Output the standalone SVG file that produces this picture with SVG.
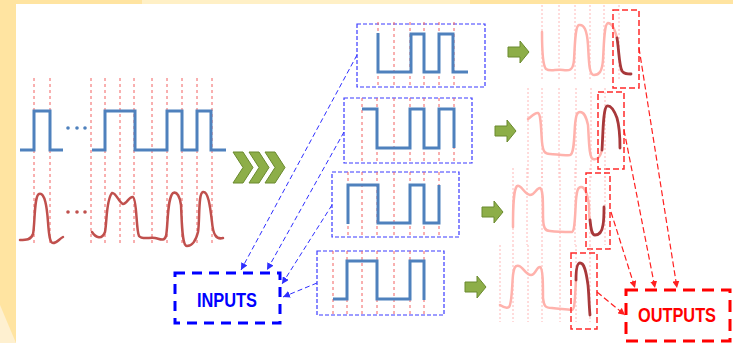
<svg xmlns="http://www.w3.org/2000/svg" width="733" height="343" viewBox="0 0 733 343">
<defs>
<style>
.grid{stroke:#F26060;stroke-width:1;stroke-dasharray:3,3;fill:none}
.pgrid{stroke:#FFB8B8;stroke-width:1;stroke-dasharray:2,2;fill:none}
.sq{stroke:#4F81BD;stroke-width:3;fill:none;stroke-linejoin:miter}
.rw{stroke:#C0504D;stroke-width:2.5;fill:none;stroke-linecap:round}
.pale{stroke:#FFB2AC;stroke-width:2.5;fill:none;stroke-linecap:round}
.dark{stroke:#A8383A;stroke-width:2.8;fill:none;stroke-linecap:round}
.ibox{stroke:#3A3AFF;stroke-width:1.2;stroke-dasharray:4,2;fill:none}
.obox{stroke:#FF2A2A;stroke-width:1.5;stroke-dasharray:6,3;fill:none}
.green{fill:#8DAE48;stroke:#6A8A2E;stroke-width:1}
.bcon{stroke:#2F2FFF;stroke-width:1;stroke-dasharray:5,3;fill:none}
.rcon{stroke:#FF2020;stroke-width:1.2;stroke-dasharray:6,3;fill:none}
.lbl{font-family:"Liberation Sans",Arial,sans-serif;font-weight:bold;font-size:21px;text-anchor:middle}
</style>
<marker id="ab" markerUnits="userSpaceOnUse" markerWidth="8" markerHeight="7" refX="7" refY="3.5" orient="auto"><path d="M0,0 L7,3.5 L0,7 z" fill="#2F2FFF"/></marker>
<marker id="ar" markerUnits="userSpaceOnUse" markerWidth="8" markerHeight="7" refX="7" refY="3.5" orient="auto"><path d="M0,0 L7,3.5 L0,7 z" fill="#FF2020"/></marker>
</defs>
<rect width="733" height="343" fill="#FFFFFF"/>
<rect x="0" y="0" width="733" height="4" fill="#FFE4A1"/>
<rect x="142" y="0" width="328" height="4" fill="#FFF0C6"/>
<rect x="0" y="0" width="16" height="343" fill="#FFE4A1"/>
<polygon points="0,305 16,343 0,343" fill="#FEF0D0"/>

<g id="input-signals">
<g class="grid">
<line x1="34" y1="78" x2="34" y2="245"/><line x1="50" y1="78" x2="50" y2="245"/>
<line x1="91" y1="78" x2="91" y2="245"/><line x1="105" y1="78" x2="105" y2="245"/>
<line x1="120" y1="78" x2="120" y2="245"/><line x1="134" y1="78" x2="134" y2="245"/>
<line x1="152" y1="78" x2="152" y2="245"/><line x1="167" y1="78" x2="167" y2="245"/>
<line x1="182" y1="78" x2="182" y2="245"/><line x1="197" y1="78" x2="197" y2="245"/>
<line x1="212" y1="78" x2="212" y2="245"/>
</g>
<path class="sq" d="M20,150 H34 V111 H50 V150 H63 M92,150 H105 V111 H135 V150 H167 V111 H182 V150 H197 V111 H211 V150 H226"/>
<circle cx="68" cy="128" r="1.8" fill="#4F81BD"/><circle cx="77" cy="128" r="1.8" fill="#4F81BD"/><circle cx="85" cy="128" r="1.8" fill="#4F81BD"/>
<path class="rw" d="M20,240 C26,240 31,240 33,234 C35,225 34,196 39,194 C45,192 47,208 48,222 C49,236 50,243 53,243 C57,243 59,239 63,237"/>
<path class="rw" d="M92,232 C96,238 102,240 105,232 C107,222 106,200 112,193 C116,192 119,203 123,204 C127,204 129,196 133,197 C137,199 136,230 139,236 C142,240 150,237 155,238 C160,239 164,242 166,236 C168,228 167,198 173,193 C177,191 180,197 181,205 C182,225 182,246 187,246 C193,246 196,240 198,232 C200,220 198,193 203,192 C208,191 210,205 212,222 C213,234 216,240 223,238"/>
<circle cx="68" cy="212" r="1.8" fill="#C0504D"/><circle cx="77" cy="212" r="1.8" fill="#C0504D"/><circle cx="85" cy="212" r="1.8" fill="#C0504D"/>
</g>

<g id="chevrons">
<polygon class="green" points="233,152 243,152 253,167.5 243,183 233,183 243,167.5"/>
<polygon class="green" points="249,152 259,152 269,167.5 259,183 249,183 259,167.5"/>
<polygon class="green" points="265,152 275,152 285,167.5 275,183 265,183 275,167.5"/>
</g>

<g id="input-window-1">
<rect class="ibox" x="357" y="24" width="128" height="63"/>
<g class="grid"><line x1="378" y1="22" x2="378" y2="87"/><line x1="394" y1="22" x2="394" y2="87"/><line x1="410" y1="22" x2="410" y2="87"/><line x1="424" y1="22" x2="424" y2="87"/><line x1="439" y1="22" x2="439" y2="87"/><line x1="454" y1="22" x2="454" y2="87"/></g>
<path class="sq" d="M378,33 V72 H411 V34 H424 V72 H439 V34 H453 V72 H468"/>
</g>
<g id="input-window-2">
<rect class="ibox" x="344" y="98" width="128" height="65"/>
<g class="grid"><line x1="362" y1="98" x2="362" y2="163"/><line x1="377" y1="98" x2="377" y2="163"/><line x1="394" y1="98" x2="394" y2="163"/><line x1="410" y1="98" x2="410" y2="163"/><line x1="424" y1="98" x2="424" y2="163"/><line x1="439" y1="98" x2="439" y2="163"/><line x1="454" y1="98" x2="454" y2="163"/></g>
<path class="sq" d="M362,109 H377 V148 H410 V109 H424 V148 H439 V109 H454 V148"/>
</g>
<g id="input-window-3">
<rect class="ibox" x="332" y="172" width="127" height="65"/>
<g class="grid"><line x1="348" y1="172" x2="348" y2="237"/><line x1="362" y1="172" x2="362" y2="237"/><line x1="377" y1="172" x2="377" y2="237"/><line x1="394" y1="172" x2="394" y2="237"/><line x1="410" y1="172" x2="410" y2="237"/><line x1="424" y1="172" x2="424" y2="237"/><line x1="439" y1="172" x2="439" y2="237"/></g>
<path class="sq" d="M348,224 V185 H378 V223 H410 V185 H424 V223 H439 V185"/>
</g>
<g id="input-window-4">
<rect class="ibox" x="317" y="251" width="127" height="64"/>
<g class="grid"><line x1="333" y1="251" x2="333" y2="315"/><line x1="347" y1="251" x2="347" y2="315"/><line x1="362" y1="251" x2="362" y2="315"/><line x1="377" y1="251" x2="377" y2="315"/><line x1="394" y1="251" x2="394" y2="315"/><line x1="410" y1="251" x2="410" y2="315"/><line x1="424" y1="251" x2="424" y2="315"/></g>
<path class="sq" d="M333,299 H347 V261 H377 V299 H410 V261 H424 V300"/>
</g>

<g id="green-arrows">
<polygon class="green" points="508,47 520,47 520,41 529,52 520,63 520,57 508,57"/>
<polygon class="green" points="495,126 507,126 507,120 516,131 507,142 507,136 495,136"/>
<polygon class="green" points="482,207 494,207 494,201 503,212 494,223 494,217 482,217"/>
<polygon class="green" points="465,282 477,282 477,276 486,287 477,298 477,292 465,292"/>
</g>

<g id="output-1">
<g class="pgrid"><line x1="542" y1="5" x2="542" y2="80"/><line x1="559" y1="5" x2="559" y2="80"/><line x1="575" y1="5" x2="575" y2="80"/><line x1="590" y1="5" x2="590" y2="80"/><line x1="604" y1="5" x2="604" y2="80"/><line x1="619" y1="5" x2="619" y2="80"/></g>
<path class="pale" d="M542,32 C542,50 543,66 546,69 C550,72 556,69 563,70 C569,71 573,71 574,60 C575,45 575,26 579,25 C584,24 587,30 588,45 C589,62 589,75 594,75 C599,75 602,72 603,60 C604,45 604,24 608,23 C612,23 615,30 617,38"/>
<path class="dark" d="M617,38 C619,50 619,65 622,71 C624,74 627,74 631,74"/>
<rect class="obox" x="613" y="10" width="26" height="78"/>
</g>
<g id="output-2">
<g class="pgrid"><line x1="528" y1="88" x2="528" y2="180"/><line x1="542" y1="88" x2="542" y2="180"/><line x1="559" y1="88" x2="559" y2="180"/><line x1="576" y1="88" x2="576" y2="180"/><line x1="591" y1="88" x2="591" y2="180"/><line x1="605" y1="88" x2="605" y2="180"/></g>
<path class="pale" d="M528,119 C531,117 535,112 538,113 C541,114 541,130 542,142 C543,152 545,154 550,154 C556,154 562,156 570,155 C574,154 574,140 575,125 C576,115 577,112 580,112 C584,112 586,116 588,125 C589,140 589,158 593,159 C597,160 600,158 602,150"/>
<path class="dark" d="M602,150 C603,135 603,108 607,106 C611,105 614,110 617,118 C619,125 620,133 620,148"/>
<rect class="obox" x="598" y="92" width="26" height="77"/>
</g>
<g id="output-3">
<g class="pgrid"><line x1="513" y1="168" x2="513" y2="245"/><line x1="527" y1="168" x2="527" y2="245"/><line x1="542" y1="168" x2="542" y2="245"/><line x1="560" y1="168" x2="560" y2="245"/><line x1="575" y1="168" x2="575" y2="245"/><line x1="590" y1="168" x2="590" y2="245"/><line x1="605" y1="168" x2="605" y2="245"/></g>
<path class="pale" d="M513,227 C513,210 513,190 517,186 C521,184 524,194 530,195 C535,195 536,188 540,188 C543,189 543,200 543,215 C543,228 545,231 550,231 C558,232 565,232 572,232 C575,231 575,215 576,200 C577,190 578,187 581,187 C585,187 587,192 589,205 C589,212 589,218 590,220"/>
<path class="dark" d="M590,220 C591,230 592,235 595,235 C599,235 602,232 603,225 C604,220 604,212 604,207"/>
<rect class="obox" x="586" y="173" width="24" height="76"/>
</g>
<g id="output-4">
<g class="pgrid"><line x1="500" y1="245" x2="500" y2="322"/><line x1="513" y1="245" x2="513" y2="322"/><line x1="528" y1="245" x2="528" y2="322"/><line x1="542" y1="245" x2="542" y2="322"/><line x1="560" y1="245" x2="560" y2="322"/><line x1="576" y1="245" x2="576" y2="322"/><line x1="590" y1="245" x2="590" y2="322"/></g>
<path class="pale" d="M500,305 C503,307 506,309 509,307 C512,304 512,285 513,275 C514,268 515,265 519,266 C523,267 526,275 531,275 C536,275 536,267 540,267 C543,268 543,285 543,298 C544,306 545,308 552,308 C560,309 566,309 572,310 C575,310 575,295 576,280"/>
<path class="dark" d="M576,280 C576,270 577,263 580,263 C584,263 586,270 588,285 C589,295 589,305 590,315"/>
<rect class="obox" x="571" y="253" width="26" height="76"/>
</g>

<g id="connectors">
<line class="bcon" x1="357" y1="55" x2="241" y2="270" marker-end="url(#ab)"/>
<line class="bcon" x1="344" y1="132" x2="267" y2="270" marker-end="url(#ab)"/>
<line class="bcon" x1="332" y1="205" x2="282" y2="284" marker-end="url(#ab)"/>
<line class="bcon" x1="317" y1="283" x2="283" y2="297" marker-end="url(#ab)"/>
<line class="rcon" x1="639" y1="48" x2="677" y2="288" marker-end="url(#ar)"/>
<line class="rcon" x1="624" y1="130" x2="655" y2="288" marker-end="url(#ar)"/>
<line class="rcon" x1="611" y1="212" x2="635" y2="288" marker-end="url(#ar)"/>
<line class="rcon" x1="597" y1="292" x2="625" y2="315" marker-end="url(#ar)"/>
</g>

<g id="inputs">
<rect x="175" y="273" width="105" height="50" fill="none" stroke="#0000FF" stroke-width="3" stroke-dasharray="10,7"/>
<text class="lbl" x="227" y="307" fill="#0000FF" textLength="60" lengthAdjust="spacingAndGlyphs">INPUTS</text>
</g>
<g id="outputs">
<rect x="626" y="290" width="104" height="51" fill="none" stroke="#FF0000" stroke-width="3" stroke-dasharray="12,7"/>
<text class="lbl" x="677" y="322" fill="#FF0000" style="font-size:20px" textLength="78" lengthAdjust="spacingAndGlyphs">OUTPUTS</text>
</g>
</svg>
